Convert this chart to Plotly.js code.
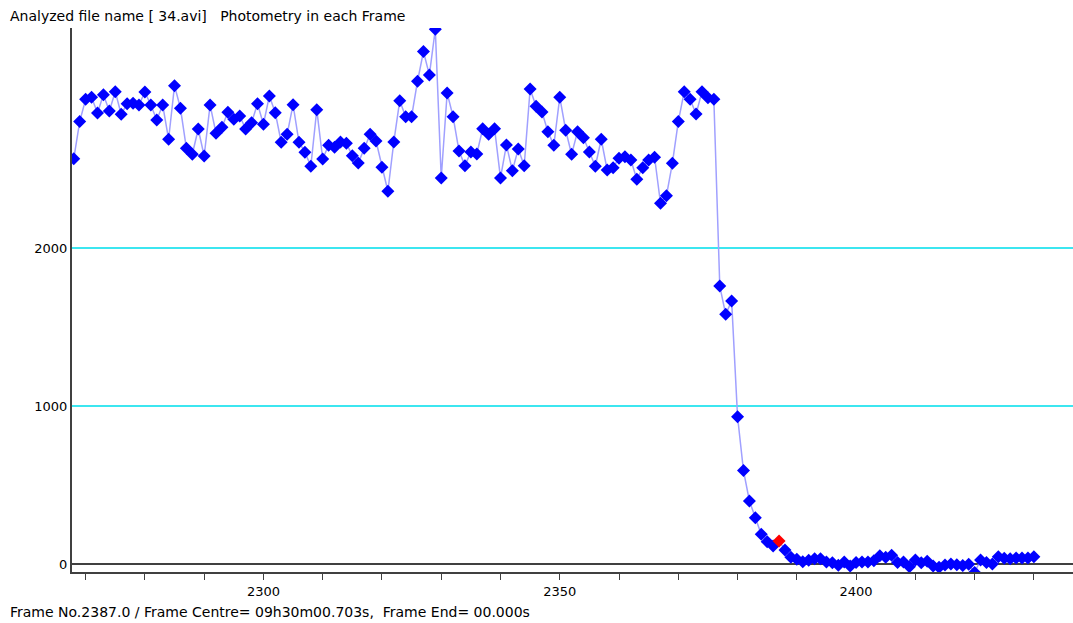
<!DOCTYPE html>
<html>
<head>
<meta charset="utf-8">
<script src="https://cdn.plot.ly/plotly-3.0.1.min.js"></script>
<style>
html,body{margin:0;padding:0;background:#fff;}
#chart{width:1073px;height:623px;}
</style>
</head>
<body>
<div id="chart"></div>
<script>
// Photometry values, one per frame, starting at firstFrame
const firstFrame = 2268;
const brightness = [
  2565, 2800, 2941, 2954, 2854, 2970, 2867, 2989, 2846, 2913,
  2916, 2905, 2987, 2905, 2810, 2905, 2688, 3027, 2884, 2631,
  2593, 2753, 2582, 2905, 2726, 2764, 2859, 2814, 2835, 2753,
  2793, 2913, 2783, 2962, 2856, 2669, 2719, 2907, 2669, 2606,
  2517, 2875, 2563, 2650, 2637, 2671, 2662, 2584, 2538, 2631,
  2719, 2677, 2511, 2359, 2671, 2932, 2831, 2831, 3055, 3243,
  3095, 3384, 2443, 2981, 2831, 2614, 2521, 2608, 2595, 2755,
  2719, 2755, 2443, 2652, 2489, 2627, 2521, 3006, 2897, 2861,
  2736, 2650, 2954, 2745, 2593, 2736, 2698, 2608, 2517, 2688,
  2494, 2508, 2568, 2578, 2557, 2435, 2508, 2557, 2574, 2283,
  2331, 2536, 2800, 2989, 2941, 2848, 2989, 2951, 2941, 1759,
  1580, 1665, 932, 591, 399, 293, 188, 141, 114, 146,
  89, 42, 30, 15, 23, 34, 34, 13, 8, -8,
  13, -13, 10, 13, 13, 21, 53, 42, 55, 10,
  13, -17, 25, 8, 17, -13, -21, -6, 0, -4,
  -10, -2, -53, 25, 10, 0, 46, 36, 34, 38,
  38, 38, 46
];
const currentFrame = 2387;
const yTickValues = [0, 1000, 2000];
const yTickLabels = ['0', '1000', '2000'];
const titleText = 'Analyzed file name [ 34.avi]   Photometry in each Frame';
const footerText = 'Frame No.2387.0 / Frame Centre= 09h30m00.703s,  Frame End= 00.000s';

const frames = brightness.map((v, i) => firstFrame + i);
const markerColors = frames.map(f => f === currentFrame ? '#ff0000' : '#0000ff');

const trace = {
  x: frames,
  y: brightness,
  type: 'scatter',
  mode: 'lines+markers',
  line: {color: '#a0a0ff', width: 1.5},
  marker: {symbol: 'diamond', size: 10, color: markerColors, line: {width: 0}},
  hoverinfo: 'x+y'
};

const font = {family: 'DejaVu Sans, Liberation Sans, sans-serif', size: 13, color: '#000'};
const textFont = {family: 'DejaVu Sans, Liberation Sans, sans-serif', size: 14, color: '#000'};

const layout = {
  width: 1073,
  height: 623,
  margin: {l: 72, r: 0, t: 28, b: 51, pad: 0},
  paper_bgcolor: '#ffffff',
  plot_bgcolor: '#ffffff',
  showlegend: false,
  font: font,
  title: {
    text: titleText,
    font: textFont,
    xref: 'container', yref: 'container',
    x: 10 / 1073, xanchor: 'left',
    y: 1 - 16 / 623, yanchor: 'middle'
  },
  xaxis: {
    range: [2267.7, 2436.6],
    tickmode: 'linear',
    tick0: 2300,
    dtick: 50,
    ticks: 'outside',
    ticklen: 6,
    tickwidth: 1,
    tickcolor: '#404040',
    minor: {dtick: 10, tick0: 2300, ticks: 'outside', ticklen: 6, tickwidth: 1, tickcolor: '#404040', showgrid: false},
    showgrid: false,
    zeroline: false,
    showline: true,
    linecolor: '#404040',
    linewidth: 2,
    tickfont: font,
    fixedrange: true
  },
  yaxis: {
    range: [-50.6, 3392],
    tickmode: 'array',
    tickvals: yTickValues,
    ticktext: yTickLabels,
    ticks: '',
    showgrid: true,
    gridcolor: '#3ce6f0',
    gridwidth: 2,
    zeroline: true,
    zerolinecolor: '#404040',
    zerolinewidth: 2,
    showline: true,
    linecolor: '#404040',
    linewidth: 2,
    tickfont: font,
    ticklabelstandoff: 0,
    fixedrange: true
  },
  annotations: [{
    text: footerText,
    xref: 'paper', yref: 'paper',
    x: 0, y: 0,
    xanchor: 'left', yanchor: 'middle',
    xshift: -64, yshift: -40,
    showarrow: false,
    font: textFont
  }]
};

Plotly.newPlot('chart', [trace], layout, {staticPlot: true, displayModeBar: false});
</script>
</body>
</html>
